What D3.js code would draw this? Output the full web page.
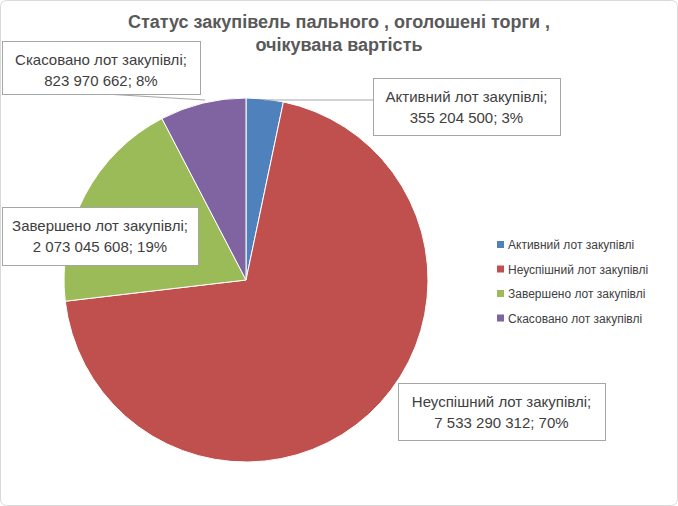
<!DOCTYPE html>
<html><head><meta charset="utf-8">
<script src="https://cdn.jsdelivr.net/npm/d3@7"></script>
<style>body{margin:0;background:#fff}text{font-family:"Liberation Sans",Arial,sans-serif}</style>
</head><body><svg id="c" width="678" height="506"></svg>
<script>
var categories = ['Активний лот закупівлі', 'Неуспішний лот закупівлі', 'Завершено лот закупівлі', 'Скасовано лот закупівлі'];
var values = [355204500, 7533290312, 2073045608, 823970662];
var valueLabels = ['355 204 500', '7 533 290 312', '2 073 045 608', '823 970 662'];
var percents = ['3%', '70%', '19%', '8%'];
var colors = ['#4F81BD', '#C0504D', '#9BBB59', '#8064A2'];

var svg = d3.select('#c');
svg.append('rect').attr('x', 0.5).attr('y', 0.5).attr('width', 677).attr('height', 505)
  .attr('rx', 6).attr('fill', '#fff').attr('stroke', '#d9d9d9');

svg.append('text').attr('x', 339).attr('y', 28).attr('text-anchor', 'middle')
  .attr('font-size', 18).attr('font-weight', 'bold').attr('fill', '#595959')
  .text('Статус закупівель пального , оголошені торги ,');
svg.append('text').attr('x', 339).attr('y', 51).attr('text-anchor', 'middle')
  .attr('font-size', 18).attr('font-weight', 'bold').attr('fill', '#595959')
  .text('очікувана вартість');

var cx = 246, cy = 280, r = 182;
var pie = d3.pie().sort(null);
var arc = d3.arc().innerRadius(0).outerRadius(r);
var g = svg.append('g').attr('transform', 'translate(' + cx + ',' + cy + ')');
var arcs = pie(values);
g.selectAll('path').data(arcs).enter().append('path')
  .attr('d', arc).attr('fill', function(d, i) { return colors[i]; })
  .attr('stroke', '#fff').attr('stroke-width', 1);

// label boxes: [x, y, w, h, leader target angle or null]
var boxes = [
  {x: 373, y: 78, w: 187, h: 57, line: [[373, 100], [264, 100]]},
  {x: 398, y: 383, w: 207, h: 57, line: null},
  {x: 2, y: 207, w: 196, h: 58, line: null},
  {x: 2, y: 41, w: 198, h: 53, line: [[105, 94], [205, 100]]}
];
boxes.forEach(function(b, i) {
  if (b.line) svg.append('path').attr('d', d3.line()(b.line)).attr('stroke', '#a6a6a6').attr('fill', 'none');
  svg.append('rect').attr('x', b.x + 0.5).attr('y', b.y + 0.5).attr('width', b.w).attr('height', b.h)
    .attr('fill', '#fff').attr('stroke', '#a6a6a6');
  var t = svg.append('text').attr('text-anchor', 'middle').attr('font-size', 15).attr('fill', '#404040');
  t.append('tspan').attr('x', b.x + b.w / 2).attr('y', b.y + 24).text(categories[i] + ';');
  t.append('tspan').attr('x', b.x + b.w / 2).attr('y', b.y + 45).text(valueLabels[i] + '; ' + percents[i]);
});

var leg = svg.append('g');
categories.forEach(function(c, i) {
  var y = 245 + i * 24.5;
  leg.append('rect').attr('x', 497).attr('y', y - 4).attr('width', 7).attr('height', 7).attr('fill', colors[i]);
  leg.append('text').attr('x', 508).attr('y', y + 4).attr('font-size', 12).attr('fill', '#404040').text(c);
});
</script></body></html>
